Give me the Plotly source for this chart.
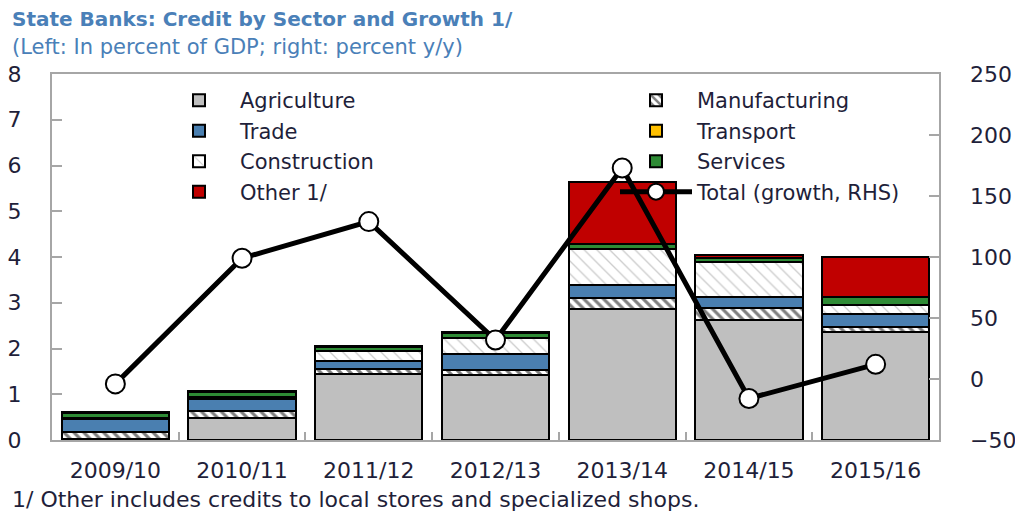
import plotly.graph_objects as go

categories = ["2009/10", "2010/11", "2011/12", "2012/13", "2013/14", "2014/15", "2015/16"]

agriculture = [0.02, 0.48, 1.45, 1.43, 2.87, 2.63, 2.36]
manufacturing = [0.16, 0.16, 0.10, 0.10, 0.23, 0.25, 0.10]
trade = [0.27, 0.25, 0.17, 0.34, 0.28, 0.25, 0.30]
transport = [0, 0, 0, 0, 0, 0, 0]
construction = [0.03, 0.04, 0.22, 0.36, 0.79, 0.76, 0.20]
services = [0.12, 0.13, 0.10, 0.10, 0.11, 0.09, 0.17]
other = [0.02, 0.02, 0.01, 0.03, 1.36, 0.06, 0.87]
total_growth = [-4, 99, 129, 32, 173, -16, 12]

left_ticks = [0, 1, 2, 3, 4, 5, 6, 7, 8]
right_ticks = [-50, 0, 50, 100, 150, 200, 250]

FONT = "DejaVu Sans"
TXT = "#1f1f3a"
BLUE = "#4a80b8"
FRAME = "#a6a6a6"

fig = go.Figure()

def bar(name, vals, color, legend, group, pattern=None):
    marker = dict(color=color, line=dict(color="black", width=2))
    if pattern:
        marker["pattern"] = pattern
    fig.add_trace(go.Bar(x=categories, y=vals, name=name, marker=marker,
                         legend=legend, legendgroup=group, yaxis="y"))

bar("Agriculture", agriculture, "#bfbfbf", "legend", "a")
bar("Manufacturing", manufacturing, "white", "legend2", "b",
    dict(shape="\\", fgcolor="black", bgcolor="white", size=7, solidity=0.45))
bar("Trade", trade, "#4a7fb0", "legend", "c")
bar("Transport", transport, "#ffc000", "legend2", "d")
bar("Construction", construction, "white", "legend", "e",
    dict(shape="\\", fgcolor="#9a9a9a", bgcolor="white", size=9, solidity=0.15))
bar("Services", services, "#2e8b35", "legend2", "f")
bar("Other 1/", other, "#c00000", "legend", "g")

fig.add_trace(go.Scatter(x=categories, y=total_growth, name="Total (growth, RHS)",
                         yaxis="y2", mode="lines+markers",
                         line=dict(color="black", width=5),
                         marker=dict(symbol="circle", size=19, color="white",
                                     line=dict(color="black", width=2)),
                         legend="legend2", legendgroup="h"))

# page body adds an 8px offset; design in reference pixel coordinates
OFF = 8
W, H = 1023 - OFF, 513 - OFF
L, R, T, B = 52 - OFF, 84, 74 - OFF, 73
pw = W - L - R
ph = H - T - B

def px_x(x):
    return (x - OFF - L) / pw

def px_y(y):
    return (H - B - (y - OFF)) / ph

legend_common = dict(font=dict(family=FONT, size=21, color=TXT), bgcolor="rgba(0,0,0,0)",
                     borderwidth=0, itemwidth=72, tracegroupgap=0.2, traceorder="grouped",
                     xanchor="left", yanchor="top", orientation="v")

fig.update_layout(
    width=W, height=H,
    margin=dict(l=L, r=R, t=T, b=B, autoexpand=False),
    paper_bgcolor="white", plot_bgcolor="white",
    barmode="stack", bargap=0.154,
    showlegend=True,
    font=dict(family=FONT, color=TXT),
    legend=dict(x=px_x(158), y=px_y(80), **legend_common),
    legend2=dict(x=px_x(615), y=px_y(80), **legend_common),
    xaxis=dict(type="category", showline=True, linecolor=FRAME, linewidth=2, mirror=True,
               ticks="inside", tickson="boundaries", ticklen=8, tickcolor=FRAME, tickwidth=1.5,
               tickfont=dict(family=FONT, size=22, color=TXT), showgrid=False,
               ticklabelstandoff=10, automargin=False),
    yaxis=dict(range=[0, 8], tickvals=left_ticks, showline=True, linecolor=FRAME, linewidth=2,
               mirror=True, ticks="inside", ticklen=10, tickcolor=FRAME, tickwidth=1.5,
               tickfont=dict(family=FONT, size=22, color=TXT), showgrid=False, zeroline=False,
               ticklabelstandoff=24, automargin=False),
    yaxis2=dict(range=[-50, 250], tickvals=right_ticks, overlaying="y", side="right",
                showline=False, ticks="inside", ticklen=10, tickcolor=FRAME, tickwidth=1.5,
                tickfont=dict(family=FONT, size=22, color=TXT), showgrid=False, zeroline=False,
                ticklabelstandoff=30, automargin=False),
    annotations=[
        dict(text="<b>State Banks: Credit by Sector and Growth 1/</b>", xref="paper", yref="paper",
             x=px_x(10), y=px_y(19), xanchor="left", yanchor="middle", showarrow=False,
             font=dict(family=FONT, size=20, color=BLUE)),
        dict(text="(Left: In percent of GDP; right: percent y/y)", xref="paper", yref="paper",
             x=px_x(10), y=px_y(47), xanchor="left", yanchor="middle", showarrow=False,
             font=dict(family=FONT, size=21, color=BLUE)),
        dict(text="1/ Other includes credits to local stores and specialized shops.",
             xref="paper", yref="paper", x=px_x(10), y=px_y(499), xanchor="left",
             yanchor="middle", showarrow=False, font=dict(family=FONT, size=22, color=TXT)),
    ],
)

fig.write_html("out.html")
